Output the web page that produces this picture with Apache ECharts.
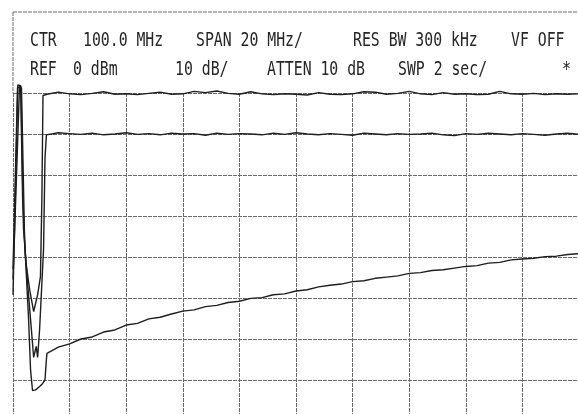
<!DOCTYPE html>
<html>
<head>
<meta charset="utf-8">
<script src="https://cdn.jsdelivr.net/npm/echarts@6/dist/echarts.min.js"></script>
<style>
  html, body { margin: 0; padding: 0; background: #fff; }
  #chart { width: 578px; height: 414px; }
</style>
</head>
<body>
<div id="chart"></div>
<script>
// sweep: 90 - 110 MHz (CTR 100 MHz, SPAN 2 MHz/div), REF 0 dBm, 10 dB/div
var sweepFreq = [91.2, 91.6, 92.0, 92.4, 92.8, 93.2, 93.6, 94.0, 94.4, 94.8, 95.2, 95.6,
                 96.0, 96.4, 96.8, 97.2, 97.6, 98.0, 98.4, 98.8, 99.2, 99.6, 100.0, 100.4,
                 100.8, 101.2, 101.6, 102.0, 102.4, 102.8, 103.2, 103.6, 104.0, 104.4, 104.8, 105.2,
                 105.6, 106.0, 106.4, 106.8, 107.2, 107.6, 108.0, 108.4, 108.8, 109.2, 109.6, 110.0];

var topLevel = [-0.3, 0.2, -0.2, -0.4, -0.1, 0.3, -0.3, -0.2, -0.4, -0.1, 0.2, -0.3,
                -0.2, 0.4, 0.1, 0.5, -0.1, -0.3, 0.3, -0.2, -0.4, -0.2, -0.3, -0.5,
                0.1, -0.3, -0.4, -0.2, 0.3, 0.2, -0.3, -0.1, 0.4, -0.2, -0.4, 0.1,
                -0.3, -0.2, -0.4, -0.3, 0.4, -0.2, -0.3, -0.1, -0.4, -0.2, -0.3, -0.2];

var midLevel = [-10.2, -9.7, -9.9, -10.1, -9.8, -10.2, -10.0, -9.7, -10.1, -9.9, -10.2, -9.8,
                -10.0, -9.9, -10.3, -9.8, -10.1, -9.9, -10.0, -10.2, -9.8, -10.1, -9.7, -10.0,
                -10.2, -9.9, -10.1, -10.3, -9.8, -10.0, -10.2, -9.9, -10.1, -10.0, -9.8, -10.2,
                -10.4, -9.9, -10.1, -9.8, -10.0, -10.2, -9.9, -10.1, -10.3, -10.0, -9.8, -10.1];

var lowLevel = [-63.5, -62.0, -61.2, -60.0, -59.5, -58.3, -57.8, -56.6, -56.2, -55.1, -54.7, -53.9,
                -53.2, -52.9, -52.1, -51.8, -51.1, -50.8, -50.1, -49.9, -49.2, -49.0, -48.3, -48.0,
                -47.3, -46.9, -46.6, -46.0, -45.8, -45.2, -44.9, -44.6, -44.0, -43.8, -43.3, -43.1,
                -42.7, -42.3, -42.1, -41.5, -41.3, -40.7, -40.5, -40.3, -39.9, -39.8, -39.4, -39.2];

// start of sweep: feedthrough spike and dip before each trace settles
var topEdgeFreq  = [90.0, 90.12, 90.17, 90.27, 90.34, 90.45, 90.59, 90.73, 90.87, 90.97, 91.02, 91.06];
var topEdgeLevel = [-49.2, -14, 2.0, 1.8, -26, -41, -48, -53.3, -49.2, -44.8, -26, -0.6];

var midEdgeFreq  = [90.0, 90.16, 90.28, 90.37, 90.51, 90.65, 90.73, 90.82, 90.87, 90.94, 91.08, 91.13, 91.18];
var midEdgeLevel = [-43, 1.3, 1.5, -33, -46, -57.7, -64.5, -61.8, -64.5, -57.7, -38, -16, -10.2];

var lowEdgeFreq  = [90.0, 90.23, 90.3, 90.41, 90.55, 90.62, 90.69, 90.8, 90.94, 91.04, 91.13, 91.18];
var lowEdgeLevel = [-45.5, 1.8, 1.2, -36, -55, -67.5, -72.6, -72.4, -71.6, -70.9, -70, -65];

var headerRow1 = [['CTR', 30], ['100.0 MHz', 83], ['SPAN 20 MHz/', 196], ['RES BW 300 kHz', 353], ['VF OFF', 511]];
var headerRow2 = [['REF', 30], ['0 dBm', 73], ['10 dB/', 175], ['ATTEN 10 dB', 267], ['SWP 2 sec/', 398], ['*', 562]];

function trace(edgeF, edgeL, level) {
    var pts = [];
    for (var i = 0; i < edgeF.length; i++) pts.push([edgeF[i], edgeL[i]]);
    for (var j = 0; j < sweepFreq.length; j++) pts.push([sweepFreq[j], level[j]]);
    return pts;
}

var gridColor = '#6a6a6a';
var traceColor = '#1e1e1e';

var texts = [];
function addRow(row, y) {
    for (var i = 0; i < row.length; i++) {
        texts.push({
            type: 'text',
            x: row[i][1],
            y: y,
            scaleX: 0.74,
            style: {
                text: row[i][0],
                x: 0, y: 0,
                fill: '#262626',
                font: '20px "DejaVu Sans Mono"',
                textAlign: 'left',
                textVerticalAlign: 'middle'
            }
        });
    }
}
addRow(headerRow1, 41);
addRow(headerRow2, 70);

var chart = echarts.init(document.getElementById('chart'), null, {renderer: 'canvas'});
chart.setOption({
    animation: false,
    backgroundColor: '#fff',
    grid: {left: 13, top: 93, width: 566, height: 328, outerBoundsMode: 'none', containLabel: false},
    xAxis: {
        type: 'value',
        min: 90, max: 110, interval: 2,
        axisLine: {show: false},
        axisTick: {show: false},
        axisLabel: {show: false},
        splitLine: {show: true, lineStyle: {color: gridColor, width: 1, type: [4, 1]}}
    },
    yAxis: {
        type: 'value',
        min: -80, max: 0, interval: 10,
        axisLine: {show: false},
        axisTick: {show: false},
        axisLabel: {show: false},
        splitLine: {show: true, lineStyle: {color: gridColor, width: 1, type: [4, 1]}}
    },
    graphic: [
        {type: 'line', shape: {x1: 13, y1: 12, x2: 578, y2: 12}, style: {stroke: gridColor, lineWidth: 1, lineDash: [4, 1]}},
        {type: 'line', shape: {x1: 13, y1: 12, x2: 13, y2: 93}, style: {stroke: gridColor, lineWidth: 1, lineDash: [4, 1]}}
    ].concat(texts),
    series: [
        {type: 'line', data: trace(topEdgeFreq, topEdgeLevel, topLevel), symbol: 'none', clip: false,
         lineStyle: {color: traceColor, width: 1.4}},
        {type: 'line', data: trace(midEdgeFreq, midEdgeLevel, midLevel), symbol: 'none', clip: false,
         lineStyle: {color: traceColor, width: 1.4}},
        {type: 'line', data: trace(lowEdgeFreq, lowEdgeLevel, lowLevel), symbol: 'none', clip: false,
         lineStyle: {color: traceColor, width: 1.4}}
    ]
});
</script>
</body>
</html>
